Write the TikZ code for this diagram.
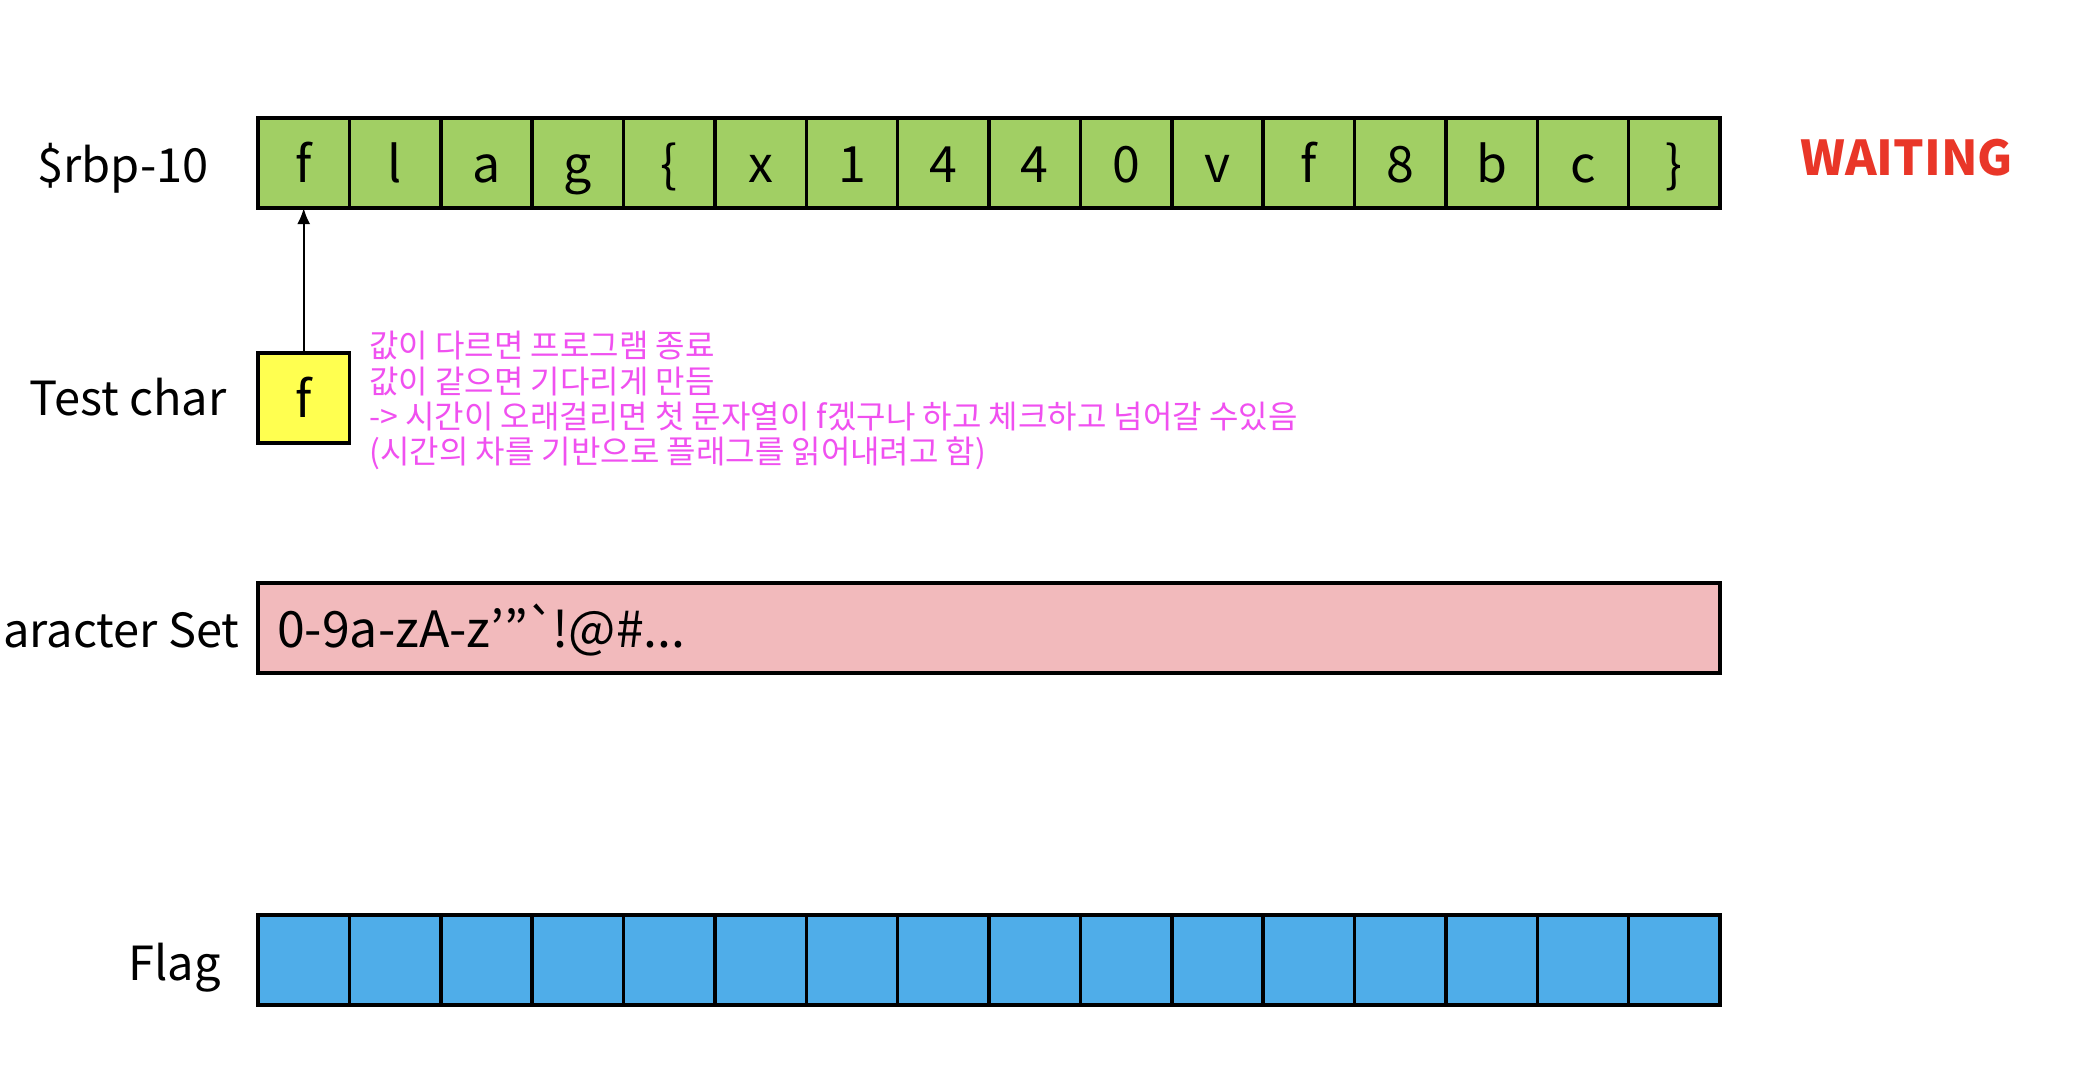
\documentclass[tikz,border=0pt]{standalone}
\usepackage{fontspec}
\setmainfont{Noto Sans CJK KR}
\usetikzlibrary{arrows.meta}
\definecolor{cellgreen}{RGB}{161,207,100}
\definecolor{testyellow}{RGB}{255,255,80}
\definecolor{setpink}{RGB}{242,186,188}
\definecolor{flagblue}{RGB}{79,173,233}
\definecolor{waitred}{RGB}{233,54,40}
\definecolor{notemag}{RGB}{240,80,240}
\begin{document}
\begin{tikzpicture}[x=0.5pt,y=-0.5pt,
  cellbox/.style={draw=black, line width=1.75pt, minimum width=45.69pt, minimum height=45pt,
    inner sep=0pt, outer sep=0pt, anchor=north west, font=\fontsize{25}{30}\selectfont,
    text height=22pt, text depth=3pt},
  rowlabel/.style={anchor=base east, inner sep=0pt, font=\fontsize{23.5}{28}\selectfont},
  arrowline/.style={line width=1.1pt, -{Latex[length=8pt,width=6.5pt]}},
  note/.style={anchor=north west, inner sep=0pt, align=left, text=notemag,
    font=\fontsize{16}{17.6}\selectfont}
]
\useasboundingbox (0,0) rectangle (2098,1088);
\clip (0,0) rectangle (2098,1088);
\fill[white] (0,0) rectangle (2098,1088);

% top row
\foreach \ch [count=\i from 0] in {f,l,a,g,\{,x,1,4,4,0,v,f,8,b,c,\}} {
  \node[cellbox, fill=cellgreen] (r\i) at ({258+91.375*\i},118) {\ch};
}
% flag row
\foreach \i in {0,...,15} {
  \node[cellbox, fill=flagblue] (f\i) at ({258+91.375*\i},915) {};
}
% test char
\node[cellbox, fill=testyellow] (tc) at (258,353) {f};
% character set
\node[cellbox, fill=setpink, minimum width=731pt, text width=712pt, inner xsep=9.5pt, align=left]
  (cs) at (258,583) {0-9a-zA-z’”\kern-1pt\textasciigrave\kern-2pt!@\#...};

% labels
\node[rowlabel] (lrbp) at (209,182) {\$rbp-10};
\node[rowlabel] (ltc) at (227,415) {Test char};
\node[rowlabel] (lcs) at (240,647) {Character Set};
\node[rowlabel] (lfl) at (221,980) {Flag};
\node[anchor=base west, inner sep=0pt, text=waitred, font=\fontsize{24}{28}\selectfont\bfseries]
  (wait) at (1800,175) {WAITING};

% note
\node[note] (nt) at (369,331) {값이 다르면 프로그램 종료\\값이 같으면 기다리게 만듬\\-> 시간이 오래걸리면 첫 문자열이 f겠구나 하고 체크하고 넘어갈 수있음\\(시간의 차를 기반으로 플래그를 읽어내려고 함)};

% arrow
\draw[arrowline] (tc.north) -- (r0.south);
\end{tikzpicture}
\end{document}
